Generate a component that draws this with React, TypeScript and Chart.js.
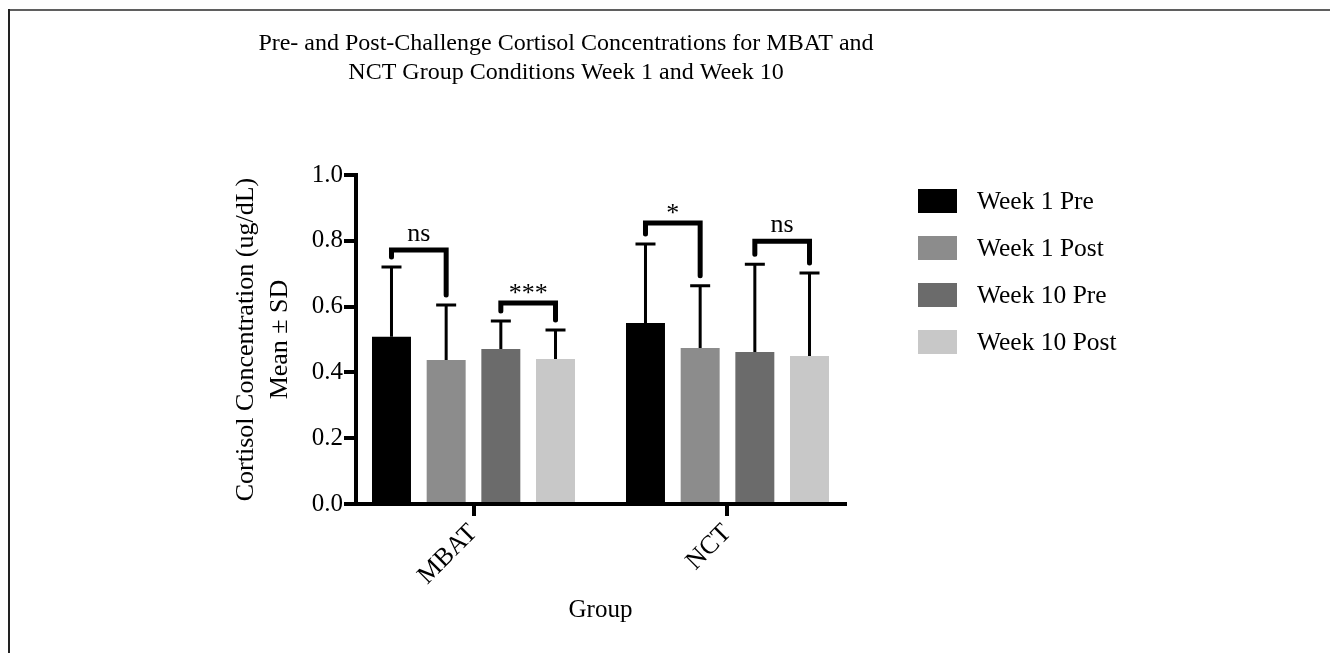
import { useEffect, useRef } from "react";
import { Chart, registerables } from "chart.js";

Chart.register(...registerables);

// ---------- data ----------
const categories = ["MBAT", "NCT"];
const seriesLabels = ["Week 1 Pre", "Week 1 Post", "Week 10 Pre", "Week 10 Post"];
const seriesColors = ["#000000", "#8c8c8c", "#6b6b6b", "#c8c8c8"];

const week1Pre = [0.508, 0.55];
const week1Post = [0.438, 0.474];
const week10Pre = [0.471, 0.462];
const week10Post = [0.441, 0.45];

const week1PreSD = [0.212, 0.24];
const week1PostSD = [0.167, 0.189];
const week10PreSD = [0.085, 0.267];
const week10PostSD = [0.088, 0.252];

const yTicks = [0, 0.2, 0.4, 0.6, 0.8, 1.0];

// significance brackets
const bracketGroup = [0, 0, 1, 1];
const bracketFrom = [0, 2, 0, 2];
const bracketTo = [1, 3, 1, 3];
const bracketLevel = [0.772, 0.611, 0.854, 0.799];
const bracketLabel = ["ns", "***", "*", "ns"];

const titleLines = [
  "Pre- and Post-Challenge Cortisol Concentrations for MBAT and",
  "NCT Group Conditions Week 1 and Week 10",
];
const yTitle = ["Cortisol Concentration (ug/dL)", "Mean ± SD"];
const xTitle = "Group";

const means = [week1Pre, week1Post, week10Pre, week10Post];
const sds = [week1PreSD, week1PostSD, week10PreSD, week10PostSD];

const FONT = "'Liberation Serif', 'Times New Roman', serif";

const framePlugin = {
  id: "frame",
  beforeDraw(chart: any) {
    const ctx = chart.ctx;
    ctx.save();
    ctx.fillStyle = "#ffffff";
    ctx.fillRect(0, 0, chart.width, chart.height);
    ctx.strokeStyle = "#5f5f5f";
    ctx.lineWidth = 2;
    ctx.beginPath();
    ctx.moveTo(8, 10);
    ctx.lineTo(chart.width, 10);
    ctx.stroke();
    ctx.strokeStyle = "#222222";
    ctx.beginPath();
    ctx.moveTo(9, 9);
    ctx.lineTo(9, chart.height);
    ctx.stroke();
    ctx.restore();
  },
};

const titlePlugin = {
  id: "figTitle",
  afterDraw(chart: any) {
    const ctx = chart.ctx;
    ctx.save();
    ctx.fillStyle = "#000";
    ctx.font = `24px ${FONT}`;
    ctx.textAlign = "center";
    ctx.textBaseline = "middle";
    titleLines.forEach((t, i) => ctx.fillText(t, 566, 44 + i * 29));
    ctx.restore();
  },
};

const legendPlugin = {
  id: "figLegend",
  afterDraw(chart: any) {
    const ctx = chart.ctx;
    ctx.save();
    ctx.font = `25.5px ${FONT}`;
    ctx.textBaseline = "middle";
    ctx.textAlign = "left";
    chart.data.datasets.forEach((ds: any, i: number) => {
      const cy = 201 + i * 47;
      ctx.fillStyle = ds.backgroundColor;
      ctx.fillRect(918, cy - 12, 39, 24);
      ctx.fillStyle = "#000";
      ctx.fillText(ds.label, 977, cy + 1);
    });
    ctx.restore();
  },
};

const errorBarPlugin = {
  id: "errorBars",
  afterDatasetsDraw(chart: any) {
    const ctx = chart.ctx;
    const y = chart.scales.y;
    ctx.save();
    ctx.strokeStyle = "#000";
    ctx.lineWidth = 3;
    chart.data.datasets.forEach((ds: any, di: number) => {
      const meta = chart.getDatasetMeta(di);
      meta.data.forEach((bar: any, i: number) => {
        const top = y.getPixelForValue(means[di][i] + sds[di][i]);
        ctx.beginPath();
        ctx.moveTo(bar.x, bar.y);
        ctx.lineTo(bar.x, top);
        ctx.moveTo(bar.x - 10, top);
        ctx.lineTo(bar.x + 10, top);
        ctx.stroke();
      });
    });
    ctx.restore();
  },
};

const bracketPlugin = {
  id: "brackets",
  afterDatasetsDraw(chart: any) {
    const ctx = chart.ctx;
    const y = chart.scales.y;
    ctx.save();
    ctx.strokeStyle = "#000";
    ctx.fillStyle = "#000";
    ctx.lineWidth = 5;
    ctx.lineJoin = "miter";
    ctx.lineCap = "round";
    ctx.font = `26px ${FONT}`;
    ctx.textAlign = "center";
    ctx.textBaseline = "alphabetic";
    bracketGroup.forEach((g, k) => {
      const a = chart.getDatasetMeta(bracketFrom[k]).data[g];
      const b = chart.getDatasetMeta(bracketTo[k]).data[g];
      const ta = y.getPixelForValue(means[bracketFrom[k]][g] + sds[bracketFrom[k]][g]) - 10;
      const tb = y.getPixelForValue(means[bracketTo[k]][g] + sds[bracketTo[k]][g]) - 10;
      const yh = y.getPixelForValue(bracketLevel[k]);
      ctx.beginPath();
      ctx.moveTo(a.x, ta);
      ctx.lineTo(a.x, yh);
      ctx.lineTo(b.x, yh);
      ctx.lineTo(b.x, tb);
      ctx.stroke();
      const m = ctx.measureText(bracketLabel[k]);
      const desc = m.actualBoundingBoxDescent || 0;
      ctx.fillText(bracketLabel[k], (a.x + b.x) / 2, yh - 9 - desc);
    });
    ctx.restore();
  },
};

export default function App() {
  const ref = useRef<HTMLCanvasElement | null>(null);

  useEffect(() => {
    if (!ref.current) return;
    const chart = new Chart(ref.current, {
      type: "bar",
      data: {
        datasets: seriesLabels.map((label, di) => ({
          label,
          data: categories.map((_, i) => ({ x: i, y: means[di][i] })),
          backgroundColor: seriesColors[di],
          borderWidth: 0,
          categoryPercentage: 0.861,
          barPercentage: 0.713,
        })),
      },
      options: {
        animation: false,
        responsive: false,
        layout: { padding: { left: 229, top: 175, right: 485, bottom: 25 } },
        plugins: {
          legend: { display: false },
          title: { display: false },
          tooltip: { enabled: false },
        },
        scales: {
          x: {
            type: "linear",
            min: -0.4626,
            max: 1.4626,
            offset: false,
            afterBuildTicks: (s: any) => {
              s.ticks = categories.map((_, i) => ({ value: i }));
            },
            afterFit: (s: any) => {
              s.height = 124;
            },
            ticks: {
              autoSkip: false,
              minRotation: 45,
              maxRotation: 45,
              padding: 2,
              color: "#000",
              font: { family: FONT, size: 26 },
              callback: (v: any) => categories[v] ?? "",
            },
            grid: {
              drawOnChartArea: false,
              offset: false,
              tickLength: 12,
              tickWidth: 4,
              tickColor: "#000",
              color: "#000",
              lineWidth: 4,
            },
            border: { color: "#000", width: 4 },
            title: {
              display: true,
              text: xTitle,
              color: "#000",
              padding: 0,
              font: { family: FONT, size: 25, lineHeight: 1.44 },
            },
          },
          y: {
            min: 0,
            max: 1,
            afterBuildTicks: (s: any) => {
              s.ticks = yTicks.map((v) => ({ value: v }));
            },
            afterFit: (s: any) => {
              s.width = 127;
            },
            ticks: {
              padding: 1,
              color: "#000",
              font: { family: FONT, size: 25 },
              callback: (v: any) => Number(v).toFixed(1),
            },
            grid: {
              drawOnChartArea: false,
              tickLength: 12,
              tickWidth: 4,
              tickColor: "#000",
              color: "#000",
              lineWidth: 4,
            },
            border: { color: "#000", width: 4 },
            title: {
              display: true,
              text: yTitle,
              color: "#000",
              padding: 0,
              font: { family: FONT, size: 26, lineHeight: 1.3 },
            },
          },
        },
      },
      plugins: [framePlugin, titlePlugin, legendPlugin, errorBarPlugin, bracketPlugin],
    } as any);
    return () => chart.destroy();
  }, []);

  return (
    <div style={{ position: "fixed", left: 0, top: 0, width: 1330, height: 653, background: "#fff" }}>
      <canvas ref={ref} width={1330} height={653} style={{ display: "block" }} />
    </div>
  );
}
